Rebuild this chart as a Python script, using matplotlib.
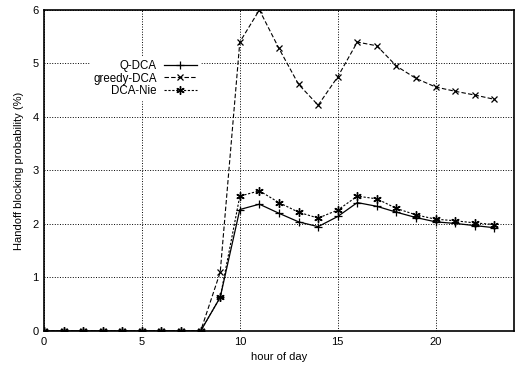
import numpy as np
from matplotlib import pyplot as plt

plt.rcParams['font.family'] = ['Liberation Sans', 'DejaVu Sans']

hours = list(range(24))
q_dca = [0, 0, 0, 0, 0, 0, 0, 0, 0, 0.63, 2.27, 2.37, 2.20, 2.04, 1.95, 2.14,
         2.40, 2.33, 2.22, 2.12, 2.04, 2.01, 1.97, 1.93]
greedy_dca = [0, 0, 0, 0, 0, 0, 0, 0, 0, 1.10, 5.40, 6.00, 5.28, 4.61, 4.22, 4.75,
              5.40, 5.33, 4.95, 4.72, 4.56, 4.48, 4.41, 4.33]
dca_nie = [0, 0, 0, 0, 0, 0, 0, 0, 0, 0.63, 2.52, 2.62, 2.40, 2.22, 2.11, 2.26,
           2.52, 2.47, 2.29, 2.17, 2.09, 2.06, 2.02, 1.99]

fig = plt.figure(figsize=(5.15, 3.69), dpi=100)
ax = fig.add_axes([0.0854, 0.103, 0.9126, 0.870])

ax.plot(hours, q_dca, color='k', lw=0.9, ls='-', marker='+', ms=6, mew=0.9, label='Q-DCA')
ax.plot(hours, greedy_dca, color='k', lw=0.8, ls=(0, (4, 2)), marker='x', ms=5, mew=0.9, label='greedy-DCA')
ax.plot(hours, dca_nie, color='k', lw=0.8, ls=(0, (2, 1.5)), marker=(6, 2, 0), ms=6, mew=1.0, label='DCA-Nie')

ax.set_xlim(0, 24)
ax.set_ylim(0, 6)
ax.set_xticks([0, 5, 10, 15, 20])
ax.set_yticks([0, 1, 2, 3, 4, 5, 6])
ax.grid(True, color='k', ls=':', lw=0.7)
ax.tick_params(labelsize=8, length=0, pad=4)
for s in ax.spines.values():
    s.set_linewidth(1.2)
ax.set_xlabel('hour of day', fontsize=8)
ax.set_ylabel('Handoff blocking probability (%)', fontsize=8, labelpad=6)

leg = ax.legend(loc='upper left', bbox_to_anchor=(0.085, 0.872), markerfirst=False, fontsize=8.3,
                handlelength=2.9, handletextpad=0.6, labelspacing=0.02, borderpad=0.3,
                fancybox=False, framealpha=1, edgecolor='white', facecolor='white')

plt.savefig('out.png', dpi=100)
plt.close()
